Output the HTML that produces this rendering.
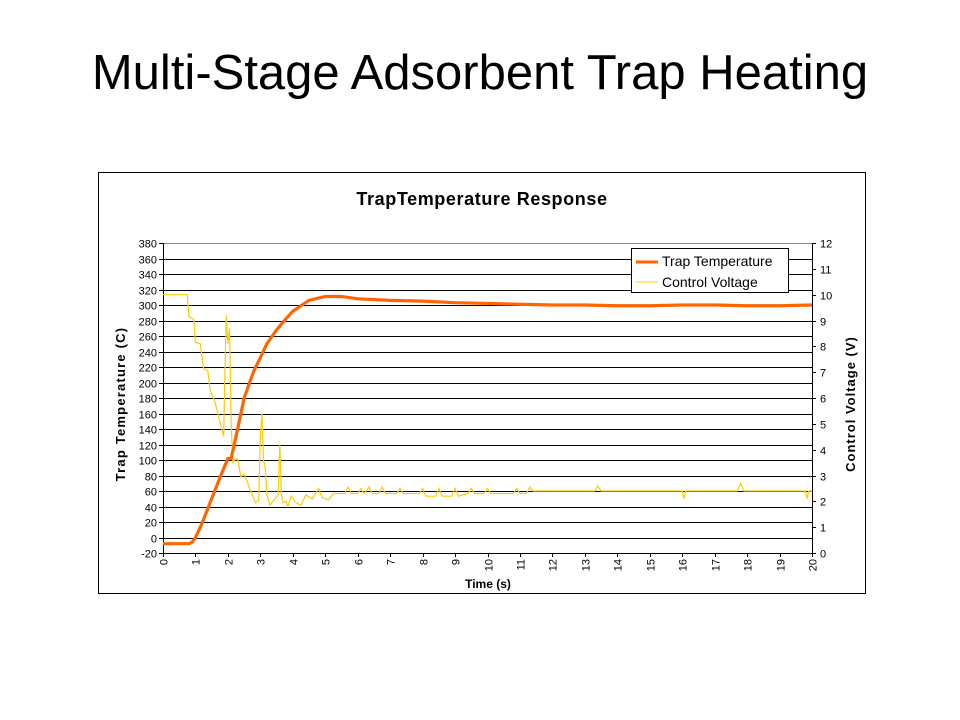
<!DOCTYPE html>
<html><head><meta charset="utf-8"><style>
body{margin:0;background:#fff;width:960px;height:720px;overflow:hidden;font-family:"Liberation Sans",Arial,sans-serif}
#title{position:absolute;left:0;top:45px;width:960px;text-align:center;font-size:49px;color:#000}
</style></head><body>
<div id="title">Multi-Stage Adsorbent Trap Heating</div>
<svg id="chart" width="960" height="720" style="position:absolute;left:0;top:0">
<rect x="98.5" y="172.5" width="767" height="421" fill="#fff" stroke="#000"/>
<text x="482" y="205" text-anchor="middle" font-size="18" font-weight="bold" letter-spacing="0.6">TrapTemperature Response</text>
<g id="grid"></g><g id="axes"></g><g id="series"></g>
<text transform="translate(125,404) rotate(-90)" text-anchor="middle" font-size="13" font-weight="bold" letter-spacing="1.2">Trap Temperature (C)</text>
<text transform="translate(855,404) rotate(-90)" text-anchor="middle" font-size="13" font-weight="bold" letter-spacing="1">Control Voltage (V)</text>
<text x="488" y="588" text-anchor="middle" font-size="12" font-weight="bold">Time (s)</text>
<g>
<rect x="631.5" y="248.5" width="157" height="44" fill="#fff" stroke="#000"/>
<line x1="636" y1="262" x2="658" y2="262" stroke="#FF6600" stroke-width="3"/>
<text x="662" y="266" font-size="14">Trap Temperature</text>
<line x1="636" y1="282" x2="658" y2="282" stroke="#FFCC00" stroke-width="1"/>
<text x="662" y="287" font-size="14">Control Voltage</text>
</g>
</svg>
<script>
const tempT=[0,0.8,0.9,1.0,1.2,1.5,1.8,2.0,2.1,2.3,2.5,2.8,3.0,3.2,3.5,3.7,4.0,4.5,5.0,5.5,6.0,7.0,8.0,9.0,10,11,12,13,14,15,16,17,18,19,20];
const tempV=[-8,-8,-6,0,18,50,82,102,102,140,180,215,232,250,268,278,292,306,311,311,308,306,305,303,302,301,300,300,299,299,300,300,299,299,300];
const voltT=[0,0.75,0.8,0.95,1.0,1.15,1.25,1.38,1.45,1.6,1.75,1.87,1.9,1.95,2.0,2.05,2.1,2.15,2.2,2.3,2.4,2.5,2.6,2.7,2.85,2.95,3.0,3.05,3.1,3.15,3.2,3.3,3.45,3.55,3.6,3.65,3.7,3.8,3.85,3.95,4.1,4.25,4.4,4.6,4.8,4.9,5.1,5.25,5.6,5.7,5.8,6.0,6.1,6.2,6.35,6.45,6.65,6.75,6.85,7.2,7.3,7.4,7.9,8.0,8.1,8.4,8.5,8.6,8.9,9.0,9.1,9.4,9.5,9.6,9.9,10.0,10.1,10.8,10.9,11.0,11.2,11.3,11.4,13.3,13.4,13.5,16.0,16.05,16.1,17.7,17.8,17.9,19.8,19.85,19.9,20];
const voltV=[10.0,10.0,9.15,9.05,8.15,8.1,7.15,7.05,6.3,5.85,5.1,4.5,6.6,9.2,8.1,8.7,5.1,3.5,3.6,3.65,2.95,3.05,2.75,2.4,1.95,2.05,4.5,5.4,3.6,3.3,2.25,1.85,2.1,2.25,4.2,2.25,1.95,2.0,1.8,2.2,1.95,1.85,2.25,2.1,2.5,2.15,2.05,2.3,2.3,2.55,2.3,2.3,2.5,2.3,2.55,2.3,2.3,2.55,2.3,2.3,2.5,2.3,2.3,2.5,2.2,2.2,2.5,2.2,2.2,2.5,2.2,2.3,2.5,2.3,2.3,2.5,2.3,2.3,2.5,2.3,2.3,2.55,2.4,2.4,2.6,2.4,2.4,2.1,2.4,2.4,2.7,2.4,2.4,2.1,2.4,2.4];
const yTicks=[-20,0,20,40,60,80,100,120,140,160,180,200,220,240,260,280,300,320,340,360,380];
const y2Ticks=[0,1,2,3,4,5,6,7,8,9,10,11,12];
const xTicks=[0,1,2,3,4,5,6,7,8,9,10,11,12,13,14,15,16,17,18,19,20];
const L=163,R=812,T=243,B=553;
const xs=t=>L+(t-0)/20*(R-L);
const ys=v=>B-(v+20)/400*(B-T);
const ys2=v=>B-v/12*(B-T);
const NS='http://www.w3.org/2000/svg';
function mk(tag,attrs,parent){const e=document.createElementNS(NS,tag);for(const k in attrs)e.setAttribute(k,attrs[k]);parent.appendChild(e);return e;}
const grid=document.getElementById('grid'),axes=document.getElementById('axes'),series=document.getElementById('series');
yTicks.forEach(v=>{const y=Math.round(ys(v))+0.5;
 if(v>-20){const g=mk('line',{x1:L,x2:R,y1:y,y2:y,stroke:v==380?'#808080':'#000','stroke-width':1},grid);}
 mk('line',{x1:L-4,x2:L,y1:y,y2:y,stroke:'#000'},axes);
 const t=mk('text',{x:L-6,y:y+4,'text-anchor':'end','font-size':11},axes);t.textContent=v;
 });
y2Ticks.forEach(v=>{const y=Math.round(ys2(v))+0.5;
 mk('line',{x1:R,x2:R+4,y1:y,y2:y,stroke:'#000'},axes);
 const t=mk('text',{x:R+8,y:y+4,'font-size':11},axes);t.textContent=v;
 });
xTicks.forEach(v=>{const x=Math.round(xs(v))+0.5;
 mk('line',{x1:x,x2:x,y1:B,y2:B+4,stroke:'#000'},axes);
 const t=mk('text',{transform:`translate(${x+4},${B+6}) rotate(-90)`,'text-anchor':'end','font-size':11},axes);t.textContent=v;
 });
mk('line',{x1:L+0.5,x2:L+0.5,y1:T,y2:B,stroke:'#000'},axes);
mk('line',{x1:R+0.5,x2:R+0.5,y1:T,y2:B,stroke:'#000'},axes);
mk('line',{x1:L,x2:R,y1:B+0.5,y2:B+0.5,stroke:'#000'},axes);
const vl=mk('polyline',{points:voltT.map((t,i)=>xs(t)+','+ys2(voltV[i])).join(' '),fill:'none',stroke:'#FFCC00','stroke-width':1.2},series);

const tl=mk('polyline',{points:tempT.map((t,i)=>xs(t)+','+ys(tempV[i])).join(' '),fill:'none',stroke:'#FF6600','stroke-width':3.2},series);

</script>
</body></html>
